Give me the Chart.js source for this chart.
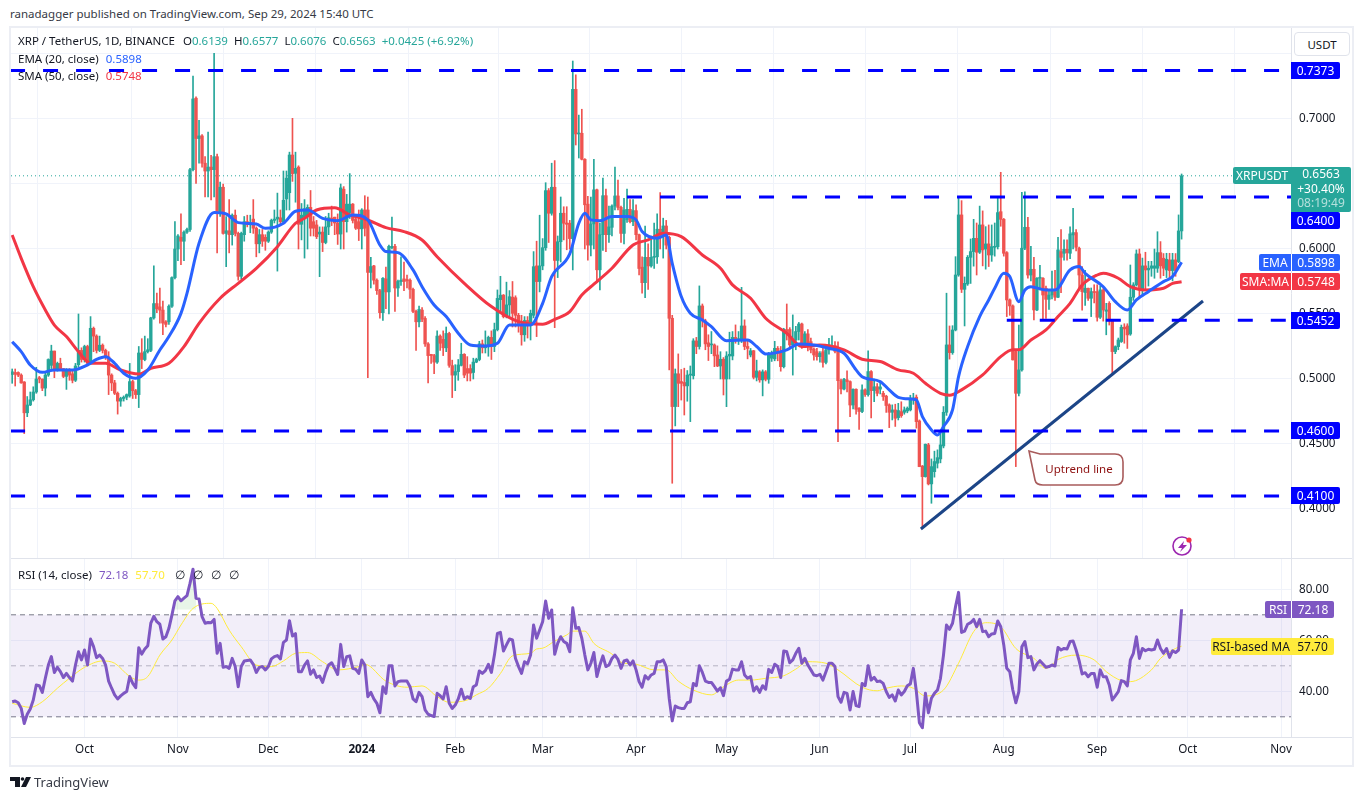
<!DOCTYPE html>
<html>
<head>
<meta charset="utf-8">
<title>XRP / TetherUS</title>
<script src="https://cdn.jsdelivr.net/npm/chart.js@4"></script>
<style>
  html, body { margin: 0; padding: 0; background: #fff; }
  body { width: 1366px; height: 800px; position: relative; overflow: hidden; font-family: "Noto Sans", sans-serif; font-size: 11.5px; color: #131722; }
  canvas { position: absolute; }
  .abs { position: absolute; white-space: nowrap; }
  .line { position: absolute; background: #e0e3eb; }
  .tag { position: absolute; height: 17px; line-height: 17px; color: #fff; text-align: center; white-space: nowrap; border-radius: 0 2px 2px 0; font-size: 12px; }
  .tag.left { border-radius: 2px 0 0 2px; }
  .blue { background: #0000ff; left: 1291px; width: 49px; }
  .gap { margin-left: 6px; }
</style>
</head>
<body>
<div class="abs" style="left:10px;top:6px;color:#363a45">ranadagger published on TradingView.com, Sep 29, 2024 15:40 UTC</div>

<canvas id="price-chart" width="1341" height="530" style="left:11px;top:28px"></canvas>
<canvas id="rsi-chart" width="1341" height="206" style="left:11px;top:559px"></canvas>

<!-- khung -->
<div class="line" style="left:9px;top:26px;width:1345px;height:2px;background:#eceef4"></div>
<div class="line" style="left:9px;top:26px;width:2px;height:741px;background:#eceef4"></div>
<div class="line" style="left:1352px;top:26px;width:2px;height:741px;background:#eceef4"></div>
<div class="line" style="left:9px;top:765px;width:1345px;height:2px;background:#eceef4"></div>
<div class="line" style="left:11px;top:558px;width:1341px;height:1px"></div>
<div class="line" style="left:11px;top:737px;width:1341px;height:1px"></div>

<div class="abs" style="left:18px;top:33px;">XRP / TetherUS, 1D, BINANCE<span class="gap" style="margin-left:8px">O</span><span style="color:#26a69a">0.6139</span><span class="gap">H</span><span style="color:#26a69a">0.6577</span><span class="gap">L</span><span style="color:#26a69a">0.6076</span><span class="gap">C</span><span style="color:#26a69a">0.6563</span><span class="gap" style="color:#26a69a">+0.0425 (+6.92%)</span></div>
<div class="abs" style="left:18px;top:51px;">EMA (20, close)<span class="gap" style="margin-left:7px;color:#2962ff">0.5898</span></div>
<div class="abs" style="left:18px;top:68px;">SMA (50, close)<span class="gap" style="margin-left:7px;color:#f23645">0.5748</span></div>
<div class="abs" style="left:18px;top:567px;">RSI (14, close)<span class="gap" style="margin-left:7px;color:#7e57c2">72.18</span><span class="gap" style="margin-left:7px;color:#ffeb3b">57.70</span><span class="gap" style="margin-left:10px">∅</span><span class="gap" style="margin-left:8px">∅</span><span class="gap" style="margin-left:8px">∅</span><span class="gap" style="margin-left:8px">∅</span></div>

<div class="abs" style="left:1294px;top:32px;width:56px;height:24px;line-height:24px;text-align:center;background:#fff;border:1px solid #e0e3eb;border-radius:4px;box-sizing:border-box">USDT</div>

<div class="tag blue" style="top:62px">0.7373</div>
<div class="tag left" style="left:1233px;width:58px;top:167px;background:#26a69a">XRPUSDT</div>
<div class="abs" style="left:1291px;top:167px;width:60px;height:45px;background:#26a69a;color:#fff;text-align:center;line-height:14.5px;border-radius:0 2px 2px 0;font-size:12px">0.6563<br>+30.40%<br><span style="color:#b5e0dc">08:19:49</span></div>
<div class="tag blue" style="top:212px">0.6400</div>
<div class="tag left" style="left:1259px;width:32px;top:254px;background:#2962ff">EMA</div>
<div class="tag" style="left:1291px;width:49px;top:254px;background:#2962ff;border-left:1px solid #fff;box-sizing:border-box">0.5898</div>
<div class="tag left" style="left:1240px;width:51px;top:273px;background:#f23645">SMA:MA</div>
<div class="tag" style="left:1291px;width:49px;top:273px;background:#f23645;border-left:1px solid #fff;box-sizing:border-box">0.5748</div>
<div class="tag blue" style="top:312px">0.5452</div>
<div class="tag blue" style="top:422px">0.4600</div>
<div class="tag blue" style="top:487px">0.4100</div>
<div class="tag left" style="left:1265px;width:26px;top:601px;background:#7e57c2">RSI</div>
<div class="tag" style="left:1291px;width:43px;top:601px;background:#7e57c2;border-left:1px solid #fff;box-sizing:border-box">72.18</div>
<div class="tag left" style="left:1211px;width:80px;top:638px;background:#ffeb3b;color:#131722">RSI-based MA</div>
<div class="tag" style="left:1291px;width:43px;top:638px;background:#ffeb3b;color:#131722">57.70</div>

<!-- callout + icon + logo -->
<svg class="abs" style="left:0;top:0" width="1366" height="800">
  <path d="M1029 451 L1040 454 H1115 Q1123 454 1123 462 V477 Q1123 485 1115 485 H1043 Q1036 485 1035 480 Z" fill="#fff" stroke="#a85b5b" stroke-width="1.6"/>
  <text x="1079" y="473" text-anchor="middle" font-family="Noto Sans" font-size="11.5" fill="#8e1010">Uptrend line</text>
  <circle cx="1182" cy="546" r="9" fill="none" stroke="#9c27b0" stroke-width="1.6"/>
  <path d="M1184 541 L1178 548 H1182 L1180 552 L1187 545 H1183 Z" fill="#9c27b0"/>
  <circle cx="1189" cy="540" r="2.6" fill="#f23645"/>
  <path d="M10 777 H20 V787 H15 V781 H10 Z M26 777 H31 L26 787 H21 Z" fill="#131722"/>
  <circle cx="22.5" cy="779" r="1.8" fill="#131722"/>
  <text x="34" y="787" font-family="Noto Sans" font-size="13" fill="#363a45">TradingView</text>
</svg>

<script>
// Ngày tính từ 1/10/2023 (0 = Oct 1); nến đầu tiên là ngày -24
const firstDay = -24;

const opens = [
  .5035,.5050,.5050,.5030,.4977,.4740,.4800,.4840,.4900,.5010,
  .5000,.4930,.5030,.5105,.5215,.5070,.5120,.5080,.5020,.5070,
  .5040,.4990,.5110,.5220,.5150,.5250,.5130,.5390,.5330,.5220,
  .5260,.5220,.5170,.5030,.4970,.4890,.4830,.4850,.4860,.4870,
  .4980,.4910,.4880,.5200,.5150,.5210,.5220,.5470,.5580,.5555,
  .5530,.5440,.5440,.5560,.5780,.6000,.6090,.6060,.6130,.6150,
  .6610,.7160,.6850,.6870,.6660,.6600,.6630,.6610,.6710,.6287,
  .6475,.6120,.6140,.6110,.6260,.6120,.5790,.6110,.6210,.6190,
  .6230,.6160,.6040,.6110,.6090,.6060,.6130,.6220,.6230,.6240,
  .6210,.6385,.6433,.6723,.6582,.6630,.6190,.6245,.6250,.6320,
  .6210,.6185,.6115,.6130,.6050,.6170,.6235,.6245,.6200,.6115,
  .6460,.6210,.6280,.6345,.6230,.6210,.6155,.6300,.6300,.5820,
  .5870,.5760,.5680,.5510,.5770,.5670,.6010,.6020,.5700,.5750,
  .5770,.5765,.5760,.5690,.5520,.5440,.5530,.5466,.5270,.5190,
  .5180,.5130,.5330,.5305,.5240,.5350,.5103,.5030,.5057,.5105,
  .5190,.5080,.5080,.5050,.5130,.5150,.5270,.5240,.5250,.5320,
  .5250,.5380,.5610,.5645,.5480,.5570,.5630,.5625,.5490,.5415,
  .5340,.5450,.5415,.5490,.5870,.5750,.5870,.6010,.6449,.6275,
  .6475,.5912,.6056,.6275,.6200,.6198,.6080,.7228,.6885,.6890,
  .6690,.6345,.6030,.6193,.6455,.5840,.6110,.6410,.6110,.6167,
  .6330,.6408,.6320,.6120,.6225,.6305,.6210,.6295,.6110,.5860,
  .5741,.5936,.5870,.5936,.5940,.6152,.6120,.6177,.6090,.5467,
  .4788,.5040,.4980,.4973,.4947,.5030,.5025,.5293,.5250,.5562,
  .5447,.5278,.5262,.5262,.5185,.5100,.5152,.5000,.5177,.5177,
  .5320,.5295,.5295,.5408,.5250,.5185,.5217,.5013,.5055,.4993,
  .5055,.4998,.5160,.5155,.5236,.5210,.5095,.5380,.5380,.5262,
  .5300,.5365,.5423,.5275,.5347,.5287,.5230,.5210,.5172,.5210,
  .5128,.5224,.5233,.5257,.5236,.4987,.4923,.4993,.4980,.4800,
  .4921,.4775,.4750,.4916,.4880,.5057,.4911,.4940,.4922,.4890,
  .4868,.4801,.4744,.4762,.4703,.4749,.4744,.4754,.4762,.4845,
  .4860,.4677,.4330,.4249,.4493,.4193,.4287,.4352,.4385,.4485,
  .4744,.5262,.5203,.5377,.5800,.6262,.5690,.5731,.5936,.5980,
  .6082,.5975,.6185,.6000,.6039,.5954,.6013,.6018,.6287,.6228,
  .5972,.5608,.5562,.5211,.4890,.5070,.6006,.6167,.5800,.5844,
  .5531,.5775,.5775,.5698,.5613,.5646,.5672,.5629,.5980,.5967,
  .5998,.5967,.6108,.6126,.6006,.5800,.5665,.5698,.5621,.5672,
  .5672,.5475,.5685,.5521,.5582,.5449,.5211,.5249,.5288,.5398,
  .5408,.5346,.5629,.5724,.5962,.5690,.5870,.5839,.5852,.5852,
  .5852,.5972,.5929,.5839,.5916,.5834,.5916,.5903,.6139
];
const highs = [
  .5077,.5077,.5055,.5040,.4980,.4865,.4900,.4940,.5090,.5020,
  .5000,.5050,.5155,.5260,.5215,.5130,.5160,.5080,.5080,.5080,
  .5060,.5120,.5500,.5240,.5260,.5260,.5480,.5400,.5340,.5330,
  .5270,.5230,.5210,.5040,.4990,.4900,.4860,.4870,.4885,.5120,
  .4990,.4920,.5250,.5310,.5330,.5310,.5475,.5870,.5660,.5700,
  .5600,.5450,.5570,.5785,.6210,.6110,.6270,.6140,.6160,.6620,
  .7330,.7170,.6990,.6880,.6710,.6900,.6720,.7505,.6730,.6515,
  .6500,.6250,.6380,.6270,.6300,.6130,.6130,.6250,.6260,.6260,
  .6380,.6170,.6150,.6150,.6110,.6140,.6230,.6300,.6430,.6300,
  .6600,.6600,.6745,.7005,.6745,.6640,.6350,.6380,.6340,.6450,
  .6250,.6220,.6170,.6170,.6250,.6275,.6330,.6245,.6270,.6500,
  .6480,.6420,.6580,.6350,.6240,.6300,.6310,.6410,.6400,.5935,
  .5875,.5770,.5690,.5780,.5860,.6030,.6245,.6035,.5760,.5940,
  .5900,.5800,.5770,.5700,.5530,.5560,.5550,.5480,.5280,.5190,
  .5190,.5370,.5340,.5370,.5400,.5360,.5145,.5110,.5150,.5275,
  .5195,.5172,.5110,.5160,.5160,.5290,.5300,.5370,.5330,.5370,
  .5430,.5685,.5790,.5650,.5745,.5680,.5750,.5640,.5505,.5490,
  .5480,.5480,.5530,.5980,.6060,.6260,.6080,.6510,.6465,.6660,
  .6680,.6100,.6400,.6325,.6325,.6220,.7446,.7340,.7030,.7075,
  .6695,.6405,.6400,.6690,.6460,.6200,.6545,.6460,.6330,.6340,
  .6630,.6530,.6330,.6390,.6460,.6380,.6380,.6340,.6115,.5940,
  .6177,.6040,.6100,.6200,.6270,.6434,.6237,.6220,.6100,.5490,
  .5077,.5193,.5073,.5083,.5065,.5100,.5310,.5320,.5716,.5577,
  .5460,.5340,.5365,.5270,.5255,.5210,.5165,.5210,.5360,.5365,
  .5416,.5365,.5705,.5455,.5295,.5235,.5220,.5145,.5065,.5070,
  .5065,.5205,.5215,.5290,.5250,.5250,.5390,.5577,.5395,.5493,
  .5405,.5435,.5430,.5365,.5380,.5315,.5240,.5236,.5210,.5235,
  .5236,.5312,.5332,.5288,.5285,.5000,.5005,.5062,.4985,.4925,
  .4925,.4780,.4955,.4925,.5216,.5065,.5000,.4965,.4975,.4905,
  .4875,.4809,.4801,.4806,.4813,.4825,.4785,.4785,.4875,.4890,
  .4877,.4685,.4335,.4500,.4505,.4385,.4445,.4455,.4605,.4788,
  .5660,.5408,.5410,.5941,.6390,.6372,.5785,.5950,.6077,.6228,
  .6200,.6330,.6293,.6172,.6185,.6185,.6200,.6395,.6590,.6235,
  .5980,.5616,.5570,.5225,.5415,.6436,.6440,.6244,.6020,.5936,
  .5780,.5875,.5780,.5715,.5685,.5831,.5835,.6090,.6150,.6070,
  .6070,.6170,.6313,.6149,.6015,.5865,.5835,.5700,.5700,.5725,
  .5725,.5715,.5695,.5582,.5595,.5455,.5255,.5315,.5415,.5425,
  .5425,.5877,.5741,.5993,.6000,.5930,.5975,.5905,.5905,.6000,
  .6133,.6057,.5965,.5967,.5967,.5967,.5965,.6262,.6577
];
const lows = [
  .4967,.4946,.5018,.4967,.4580,.4710,.4795,.4830,.4890,.4970,
  .4910,.4870,.5020,.5080,.5010,.5060,.5070,.5010,.4920,.4990,
  .4970,.4980,.5090,.5130,.5130,.5100,.5120,.5210,.5200,.5210,
  .5200,.5150,.4880,.4910,.4880,.4730,.4790,.4830,.4840,.4860,
  .4850,.4850,.4780,.5080,.5140,.5200,.5210,.5460,.5510,.5430,
  .5340,.5400,.5420,.5550,.5770,.5910,.5880,.5910,.6120,.6135,
  .6600,.6505,.6660,.6630,.6400,.6400,.6377,.6400,.5970,.6250,
  .6115,.5864,.5970,.6030,.6100,.5760,.5770,.6060,.6170,.6125,
  .6120,.5940,.5970,.6020,.5990,.6050,.6120,.6200,.5830,.6180,
  .6200,.6300,.6300,.6520,.6360,.6000,.6070,.5930,.6000,.6100,
  .6100,.6080,.5787,.5980,.6040,.6110,.6180,.6110,.6035,.6000,
  .6000,.6130,.6235,.6200,.6150,.6065,.6000,.6100,.5010,.5700,
  .5730,.5650,.5467,.5450,.5540,.5500,.6000,.5520,.5635,.5720,
  .5680,.5700,.5620,.5510,.5220,.5400,.5440,.5250,.4970,.5120,
  .5040,.5120,.5220,.5180,.5210,.5090,.4857,.4910,.4990,.5100,
  .5010,.4985,.4985,.5000,.5125,.5140,.5200,.5200,.5175,.5150,
  .5210,.5370,.5505,.5470,.5470,.5480,.5400,.5400,.5360,.5260,
  .5290,.5315,.5300,.5470,.5326,.5670,.5840,.5990,.6050,.6260,
  .5395,.5780,.5900,.6070,.5994,.6000,.5839,.6800,.6700,.6685,
  .6000,.5915,.5946,.6000,.5750,.5685,.5990,.5980,.6050,.6100,
  .6300,.6300,.6050,.6040,.6205,.6200,.6180,.6070,.5800,.5660,
  .5626,.5690,.5860,.5850,.5890,.6000,.5930,.6000,.5070,.4198,
  .4639,.4787,.4838,.4723,.4829,.4672,.5000,.5195,.5230,.5400,
  .5225,.5142,.5195,.5095,.5095,.5000,.4877,.4787,.5000,.5147,
  .5275,.5265,.5280,.5225,.5155,.5170,.5000,.4985,.4975,.4870,
  .4985,.4967,.5135,.5140,.5140,.5060,.5085,.5300,.5240,.5030,
  .5225,.5300,.5235,.5262,.5215,.5200,.5145,.5145,.5130,.5090,
  .5115,.5190,.5225,.5200,.4518,.4885,.4915,.4900,.4711,.4770,
  .4730,.4613,.4740,.4865,.4867,.4700,.4825,.4870,.4885,.4835,
  .4743,.4626,.4685,.4635,.4685,.4705,.4729,.4740,.4754,.4805,
  .4622,.4325,.3852,.4245,.4185,.4044,.4245,.4315,.4355,.4470,
  .4720,.5153,.5190,.5370,.5790,.5665,.5408,.5720,.5735,.5868,
  .5800,.5965,.5870,.5845,.5865,.5905,.5945,.6000,.6175,.5945,
  .5480,.5490,.5146,.4326,.4870,.5060,.5995,.5775,.5755,.5455,
  .5525,.5685,.5455,.5465,.5535,.5615,.5605,.5625,.5665,.5915,
  .5915,.5925,.6000,.5985,.5685,.5530,.5565,.5605,.5480,.5585,
  .5445,.5465,.5445,.5340,.5415,.5030,.5195,.5225,.5281,.5275,
  .5235,.5336,.5605,.5715,.5625,.5635,.5685,.5715,.5790,.5775,
  .5820,.5775,.5795,.5780,.5780,.5755,.5790,.5895,.6076
];
const closes = [
  .5055,.5036,.5030,.4970,.4740,.4800,.4840,.4900,.5000,.5000,
  .4930,.5030,.5150,.5215,.5070,.5120,.5080,.5020,.5070,.5030,
  .4990,.5100,.5220,.5150,.5250,.5120,.5390,.5330,.5220,.5260,
  .5220,.5170,.5030,.4970,.4890,.4830,.4850,.4860,.4880,.4980,
  .4910,.4880,.5200,.5150,.5210,.5225,.5470,.5580,.5540,.5530,
  .5430,.5420,.5560,.5780,.6000,.6100,.6060,.6130,.6150,.6610,
  .7154,.6850,.6870,.6660,.6600,.6630,.6610,.6710,.6287,.6475,
  .6120,.6140,.6110,.6260,.6120,.5790,.6120,.6210,.6190,.6200,
  .6160,.6040,.6110,.6060,.6060,.6130,.6220,.6230,.6245,.6210,
  .6375,.6545,.6723,.6580,.6620,.6190,.6260,.6310,.6320,.6160,
  .6160,.6095,.6130,.6050,.6170,.6240,.6230,.6200,.6115,.6470,
  .6210,.6345,.6345,.6220,.6160,.6155,.6300,.6160,.5820,.5865,
  .5760,.5680,.5510,.5775,.5670,.6020,.6020,.5700,.5750,.5760,
  .5750,.5755,.5690,.5520,.5440,.5535,.5460,.5270,.5180,.5180,
  .5130,.5330,.5275,.5240,.5350,.5105,.5030,.5057,.5108,.5190,
  .5030,.5045,.5045,.5130,.5150,.5270,.5240,.5260,.5320,.5250,
  .5380,.5620,.5645,.5480,.5570,.5633,.5505,.5490,.5415,.5340,
  .5450,.5415,.5505,.5864,.5749,.5870,.6010,.6449,.6275,.6475,
  .5912,.6056,.6275,.6198,.6190,.6080,.7228,.6885,.6890,.6690,
  .6340,.6030,.6193,.6455,.5840,.6110,.6410,.6110,.6170,.6330,
  .6408,.6320,.6120,.6300,.6305,.6210,.6295,.6110,.5850,.5741,
  .5936,.5870,.5936,.5940,.6152,.6120,.6177,.6030,.5467,.4788,
  .5040,.4967,.4967,.4947,.5030,.5035,.5293,.5250,.5562,.5447,
  .5270,.5250,.5263,.5178,.5100,.5152,.5000,.5177,.5190,.5320,
  .5295,.5310,.5408,.5250,.5235,.5217,.5013,.5062,.4993,.5055,
  .4998,.5195,.5195,.5236,.5198,.5095,.5382,.5365,.5262,.5300,
  .5365,.5423,.5275,.5347,.5249,.5224,.5185,.5172,.5197,.5128,
  .5224,.5262,.5244,.5213,.4987,.4923,.4998,.4980,.4800,.4921,
  .4767,.4750,.4916,.4880,.5057,.4911,.4940,.4890,.4939,.4865,
  .4796,.4744,.4762,.4698,.4757,.4718,.4762,.4775,.4852,.4852,
  .4672,.4326,.4249,.4498,.4193,.4326,.4365,.4395,.4493,.4744,
  .5262,.5203,.5377,.5800,.6262,.5690,.5736,.5936,.5980,.6082,
  .5975,.6185,.5993,.6039,.5954,.6018,.6021,.6280,.6228,.5967,
  .5608,.5562,.5147,.4890,.5070,.6006,.6167,.5800,.5844,.5531,
  .5775,.5780,.5646,.5613,.5646,.5677,.5629,.5993,.5936,.5998,
  .5972,.6116,.6126,.6013,.5800,.5672,.5698,.5621,.5672,.5665,
  .5475,.5685,.5531,.5531,.5449,.5211,.5249,.5300,.5398,.5385,
  .5339,.5629,.5724,.5962,.5685,.5870,.5839,.5852,.5870,.5870,
  .5972,.5870,.5852,.5921,.5834,.5916,.5834,.6139,.6563
];

const rsiValues = [
  35.9,36.2,35.5,33.3,27.4,31.0,33.1,36.6,42.5,42.2,
  39.6,45.1,50.3,53.6,47.4,49.4,47.7,45.4,47.0,45.4,
  44.0,50.3,55.5,52.3,56.2,50.3,60.5,57.5,53.2,54.2,
  52.9,50.3,44.0,41.2,38.6,37.0,38.2,39.2,39.9,45.8,
  43.1,41.4,57.1,54.6,56.6,57.9,66.7,69.4,67.3,66.3,
  60.5,61.4,64.7,69.9,75.5,77.1,75.5,76.5,77.5,82.3,
  87.9,76.5,76.2,69.3,66.7,67.0,66.9,68.2,54.9,58.8,
  49.4,49.7,49.0,52.9,49.7,41.8,49.7,51.9,52.1,52.3,
  50.6,47.4,49.4,49.7,48.4,49.7,52.7,53.6,54.0,52.7,
  59.2,60.1,67.7,61.7,62.6,47.7,47.7,50.3,51.9,46.7,
  48.4,45.4,46.0,43.5,47.4,50.3,51.2,49.0,46.6,58.4,
  49.7,53.6,53.9,49.0,48.6,47.0,52.3,50.3,37.9,39.6,
  37.0,35.3,31.6,41.8,39.2,50.0,50.0,42.1,43.8,44.0,
  44.0,44.0,41.8,37.0,35.9,39.6,37.9,32.7,31.0,30.5,
  30.1,39.2,38.3,37.0,41.8,35.3,33.3,34.6,37.0,40.8,
  37.0,37.9,37.2,41.8,42.5,48.0,47.0,48.1,50.6,47.4,
  54.2,62.7,63.1,55.8,58.2,60.5,60.1,52.9,49.7,47.0,
  51.6,50.8,54.2,66.0,60.8,64.0,67.3,75.4,68.6,71.9,
  54.5,58.8,61.4,59.5,58.8,55.5,72.8,64.7,65.0,60.8,
  54.2,48.4,51.0,55.2,45.8,50.3,53.9,49.7,50.3,52.9,
  54.2,52.5,49.0,51.9,52.3,50.3,51.9,48.4,43.8,41.6,
  46.1,44.8,46.4,47.0,51.6,51.6,52.3,49.7,37.2,28.4,
  34.2,33.6,33.3,33.3,35.5,35.9,43.1,42.2,50.0,47.4,
  44.0,43.5,43.5,41.8,40.1,41.4,38.3,44.0,44.7,48.7,
  48.4,48.4,51.6,46.4,45.1,45.8,40.1,41.8,39.6,42.2,
  40.8,48.6,47.4,50.6,49.7,45.4,55.8,55.5,51.2,52.3,
  54.9,56.9,51.0,52.9,50.3,48.4,46.4,46.1,46.7,44.4,
  47.7,51.0,51.0,49.7,37.9,35.7,39.6,39.2,32.7,39.9,
  34.4,34.0,43.1,42.2,50.0,44.4,45.5,43.8,44.0,43.1,
  39.9,37.6,38.6,36.2,40.5,38.6,39.9,42.2,42.9,49.0,
  39.9,27.7,25.7,39.2,31.6,37.3,39.2,40.5,45.1,54.2,
  66.0,64.3,66.7,73.2,78.8,63.1,63.6,66.3,66.9,68.2,
  65.3,68.2,63.4,63.6,61.4,62.5,62.7,67.6,65.3,58.2,
  49.0,47.7,40.5,35.5,39.9,57.5,59.5,53.2,53.6,48.4,
  50.7,52.0,50.7,49.4,49.7,50.3,49.9,57.2,56.2,56.8,
  56.6,59.5,59.7,56.2,52.0,46.8,47.3,45.7,47.0,47.0,
  41.6,48.4,45.7,45.7,42.5,36.6,38.2,39.9,44.2,43.8,
  42.1,52.3,54.9,61.4,52.9,56.8,55.9,56.5,56.2,56.5,
  60.1,56.8,54.9,56.8,53.3,55.9,55.2,56.2,72.18
];

const emaDays = [-24,-21,-18,-14,-10,-4,1,4,7,10,13,17,21,25,28,32,34,38,43,47,51,57,60,66,70,74,79,84,89,94,98,100,104,109,112,116,120,124,128,133,137,141,148,152,155,161,164,166,168,171,175,180,183,185,190,193,195,198,201,205,208,213,220,223,226,233,237,242,247,252,256,258,264,267,270,274,276,278,281,283,285,288,290,293,297,300,302,305,307,310,312,314,319,322,327,330,332,338,342,346,349,353,358,361,364];
const emaValues = [.5287,.5210,.5108,.5051,.5070,.5069,.5108,.5151,.5172,.5121,.5044,.5005,.5069,.5223,.5326,.5505,.5659,.6044,.6280,.6269,.6203,.6192,.6159,.6198,.6290,.6300,.6236,.6218,.6262,.6223,.6031,.5980,.5972,.5839,.5710,.5569,.5480,.5352,.5262,.5254,.5275,.5416,.5416,.5582,.5787,.5962,.6198,.6275,.6224,.6218,.6250,.6250,.6224,.6134,.6083,.6108,.5890,.5634,.5506,.5454,.5403,.5295,.5300,.5250,.5193,.5224,.5270,.5262,.5236,.5198,.5070,.5018,.4980,.4916,.4859,.4847,.4839,.4711,.4608,.4570,.4634,.4762,.5018,.5249,.5480,.5608,.5698,.5813,.5788,.5595,.5685,.5710,.5685,.5685,.5839,.5865,.5813,.5710,.5595,.5531,.5608,.5672,.5749,.5788,.5898];

const smaDays = [-24,-21,-17,-13,-10,-6,-2,2,7,12,18,22,28,33,38,45,51,57,64,70,73,77,83,88,94,100,106,112,117,126,135,144,152,156,161,165,169,175,182,187,192,198,205,211,215,221,226,233,238,244,252,258,264,270,275,279,284,287,291,298,304,308,310,314,319,323,327,331,336,338,343,347,352,358,361,364];
const smaValues = [.6108,.5928,.5710,.5531,.5415,.5326,.5210,.5121,.5121,.5069,.5038,.5082,.5121,.5249,.5428,.5621,.5736,.5851,.6018,.6198,.6236,.6300,.6318,.6262,.6223,.6164,.6134,.6069,.5941,.5736,.5557,.5441,.5421,.5459,.5518,.5646,.5729,.5852,.6031,.6070,.6121,.6095,.5954,.5852,.5724,.5621,.5467,.5352,.5249,.5262,.5224,.5152,.5134,.5070,.5044,.4967,.4890,.4875,.4916,.5031,.5172,.5224,.5224,.5300,.5377,.5480,.5582,.5723,.5800,.5813,.5775,.5710,.5685,.5698,.5736,.5748];

const rsiMaDays = [-24,-18,-14,-9,-5,0,6,10,15,18,21,25,29,32,36,42,44,48,52,57,62,66,70,74,79,84,91,93,100,107,112,117,121,127,130,134,138,142,148,150,152,156,160,162,166,169,175,178,183,189,193,197,202,208,212,217,221,226,232,236,240,246,250,258,263,266,271,275,279,285,290,295,299,304,309,315,319,323,329,335,339,344,347,354,357,362,364];
const rsiMaValues = [35.3,33.7,35.9,41.2,45.1,49.4,51.9,51.0,45.8,44.4,45.8,54.2,60.1,66.0,72.5,74.5,72.5,64.0,57.5,50.3,49.7,51.9,54.9,55.2,51.6,48.4,49.7,50.6,44.0,41.6,42.1,37.9,35.7,36.6,38.6,41.2,47.0,53.9,54.9,56.6,56.9,59.7,62.1,63.6,63.6,58.8,54.6,51.4,50.6,48.4,48.4,44.0,40.5,38.6,41.8,44.4,44.4,45.1,46.1,48.7,51.6,51.0,48.4,41.6,40.2,41.2,42.1,41.2,38.2,40.5,51.0,63.4,66.9,65.3,56.8,52.9,49.0,52.5,54.2,52.3,47.7,44.2,43.8,48.4,52.9,56.8,57.7];

// Đường kẻ ngang: mức giá và ngày bắt đầu
const levelPrices = [0.7373, 0.64, 0.5452, 0.46, 0.41];
const levelStarts = [-24.7, 180, 306, -24.7, -24.7];
const lastPrice = 0.6563;
const trendDays = [277.5, 371.1];
const trendPrices = [0.3846, 0.56];

const monthDays = [0, 31, 61, 92, 123, 152, 183, 213, 244, 274, 305, 336, 366, 397];
const monthLabels = ['Oct','Nov','Dec','2024','Feb','Mar','Apr','May','Jun','Jul','Aug','Sep','Oct','Nov'];

const days = opens.map((_, i) => firstDay + i);
const zip = (xs, ys) => xs.map((x, i) => ({ x, y: ys[i] }));
const upDown = ctx => closes[ctx.dataIndex] >= opens[ctx.dataIndex] ? '#26a69a' : '#ef5350';

const xMin = -24.39, xMax = 400.3;
const axisFont = { family: 'Noto Sans', size: 11.7 };

function xAxis(showLabels, height) {
  return {
    type: 'linear', offset: false, min: xMin, max: xMax,
    afterBuildTicks: s => { s.ticks = monthDays.map(v => ({ value: v })); },
    afterFit: s => { s.height = height; s.paddingLeft = 0; s.paddingRight = 0; },
    grid: { color: '#f0f3fa', drawTicks: false },
    border: { display: false },
    ticks: {
      display: showLabels, autoSkip: false, maxRotation: 0, padding: 6, color: '#131722',
      font: ctx => ({ ...axisFont, weight: ctx.index === 3 ? 'bold' : 'normal' }),
      callback: (v, i) => monthLabels[i]
    }
  };
}
function yAxisFit(s) {
  s.width = 61; s.paddingTop = 0; s.paddingBottom = 0;
}

const flat = (y, x0, x1, extra) => ({
  type: 'line', data: [{ x: x0, y }, { x: x1, y }], pointRadius: 0, ...extra
});

new Chart(document.getElementById('price-chart'), {
  data: {
    datasets: [
      ...levelPrices.map((p, i) => flat(p, levelStarts[i], 402, { borderColor: '#0000ff', borderWidth: 3, borderDash: [15, 18], order: 1 })),
      { type: 'line', data: zip(trendDays, trendPrices), borderColor: '#1c4587', borderWidth: 3, pointRadius: 0, order: 1 },
      { type: 'line', data: zip(emaDays, emaValues), borderColor: '#2962ff', borderWidth: 3, borderJoinStyle: 'round', pointRadius: 0, cubicInterpolationMode: 'monotone', order: 2 },
      { type: 'line', data: zip(smaDays, smaValues), borderColor: '#f23645', borderWidth: 3, borderJoinStyle: 'round', pointRadius: 0, cubicInterpolationMode: 'monotone', order: 2 },
      { type: 'bar', data: days.map((d, i) => ({ x: d, y: [Math.min(opens[i], closes[i]), Math.max(opens[i], closes[i])] })), backgroundColor: upDown, barThickness: 2.7, minBarLength: 1, grouped: false, order: 3 },
      { type: 'bar', data: days.map((d, i) => ({ x: d, y: [lows[i], highs[i]] })), backgroundColor: upDown, barThickness: 1, grouped: false, order: 4 },
      flat(lastPrice, xMin, 402, { borderColor: '#26a69a', borderWidth: 1, borderDash: [1, 3], order: 5 })
    ]
  },
  options: {
    responsive: false, animation: false, events: [],
    layout: { padding: 0 },
    plugins: { legend: { display: false }, tooltip: { enabled: false } },
    scales: {
      x: xAxis(false, 0),
      y: {
        position: 'right', min: 0.3623, max: 0.77,
        afterFit: yAxisFit,
        grid: { color: '#f0f3fa', drawTicks: false },
        border: { color: '#e0e3eb' },
        ticks: {
          stepSize: 0.05, includeBounds: false, padding: 8, color: '#131722', font: axisFont,
          callback: v => (Math.abs(v - 0.75) < 1e-6 ? '' : v.toFixed(4))
        }
      }
    }
  }
});

new Chart(document.getElementById('rsi-chart'), {
  data: {
    datasets: [
      { type: 'line', data: zip(days, rsiValues), borderColor: '#7e57c2', borderWidth: 3, borderJoinStyle: 'round', pointRadius: 0, order: 1 },
      { type: 'line', data: zip(rsiMaDays, rsiMaValues), borderColor: '#ffeb3b', borderWidth: 1, pointRadius: 0, cubicInterpolationMode: 'monotone', order: 2 },
      // Vùng xanh nhạt ở đỉnh tháng 11
      { type: 'line', data: zip(days.slice(54, 62), rsiValues.slice(54, 62)), borderWidth: 0, pointRadius: 0, fill: { target: { value: 72 }, above: 'rgba(76,175,80,0.13)', below: 'rgba(0,0,0,0)' }, order: 3 },
      flat(70, xMin, xMax, { borderColor: '#787b86', borderWidth: 1, borderDash: [5, 4], fill: '+1', backgroundColor: 'rgba(126,87,194,0.1)', order: 4 }),
      flat(30, xMin, xMax, { borderColor: '#787b86', borderWidth: 1, borderDash: [5, 4], order: 4 }),
      flat(50, xMin, xMax, { borderColor: 'rgba(120,123,134,0.5)', borderWidth: 1, borderDash: [5, 4], order: 4 })
    ]
  },
  options: {
    responsive: false, animation: false, events: [],
    layout: { padding: 0 },
    plugins: { legend: { display: false }, tooltip: { enabled: false } },
    scales: {
      x: xAxis(true, 28),
      y: {
        position: 'right', min: 22.08, max: 91.88,
        afterFit: yAxisFit,
        grid: { color: '#f0f3fa', drawTicks: false },
        border: { color: '#e0e3eb' },
        ticks: { stepSize: 20, includeBounds: false, padding: 8, color: '#131722', font: axisFont, callback: v => v.toFixed(2) }
      }
    }
  }
});
</script>
</body>
</html>
